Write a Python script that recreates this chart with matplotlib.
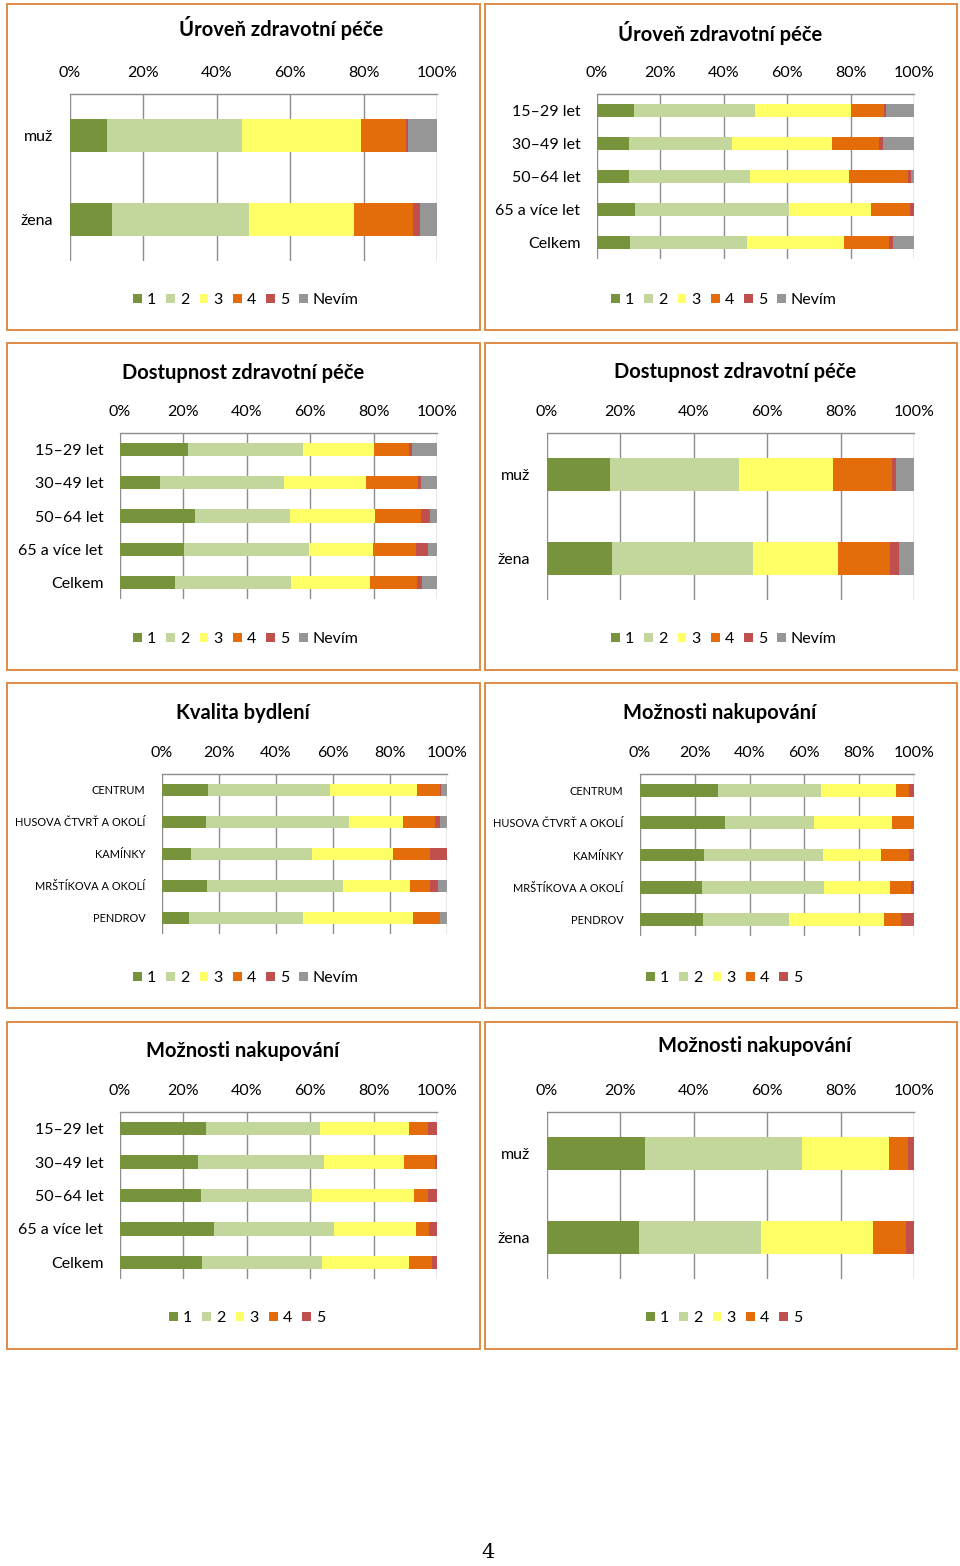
import matplotlib
matplotlib.use("Agg")
import matplotlib.pyplot as plt
from matplotlib.patches import Rectangle, Patch
import numpy as np

plt.rcParams['font.family'] = ['Lato', 'DejaVu Sans']

W, H = 960, 1566

# ---------------- data (percent of answers) ----------------
legend6 = ['1', '2', '3', '4', '5', 'Nevím']
legend5 = ['1', '2', '3', '4', '5']
colors = ['#77933C', '#C3D69B', '#FFFF66', '#E46C0A', '#C0504D', '#969696']

sex_cats = ['muž', 'žena']
age_cats = ['15–29 let', '30–49 let', '50–64 let', '65 a více let', 'Celkem']
area_cats = ['CENTRUM', 'HUSOVA ČTVRŤ A OKOLÍ', 'KAMÍNKY', 'MRŠTÍKOVA A OKOLÍ', 'PENDROV']

# Úroveň zdravotní péče - pohlaví
uroven_sex = [
    [10.0, 37.0, 32.3, 12.2, 0.5, 8.0],
    [11.4, 37.5, 28.4, 16.2, 1.8, 4.7],
]
# Úroveň zdravotní péče - věk
uroven_age = [
    [11.8, 38.0, 30.2, 10.5, 0.6, 8.9],
    [10.0, 32.6, 31.6, 14.7, 1.3, 9.8],
    [10.2, 38.2, 31.0, 18.8, 1.0, 0.8],
    [11.9, 48.6, 26.0, 12.2, 1.3, 0.0],
    [10.5, 36.9, 30.6, 14.1, 1.2, 6.7],
]
# Dostupnost zdravotní péče - věk
dostupnost_age = [
    [21.3, 36.3, 22.4, 11.3, 0.9, 7.8],
    [12.7, 38.9, 26.1, 16.4, 1.0, 4.9],
    [23.7, 30.0, 26.8, 14.6, 2.8, 2.1],
    [20.2, 39.3, 20.3, 13.7, 3.8, 2.7],
    [17.3, 36.7, 24.8, 14.9, 1.7, 4.6],
]
# Dostupnost zdravotní péče - pohlaví
dostupnost_sex = [
    [17.2, 35.2, 25.6, 16.1, 1.1, 4.8],
    [17.7, 38.3, 23.3, 14.1, 2.5, 4.1],
]
# Kvalita bydlení - lokalita
bydleni_area = [
    [16.2, 42.7, 30.6, 7.9, 0.5, 2.1],
    [15.4, 50.1, 19.1, 11.1, 2.0, 2.3],
    [10.2, 42.3, 28.4, 13.0, 6.1, 0.0],
    [15.9, 47.6, 23.5, 7.2, 2.8, 3.0],
    [9.6, 39.8, 38.6, 9.5, 0.0, 2.5],
]
# Možnosti nakupování - lokalita
nakup_area = [
    [28.4, 37.6, 27.6, 4.4, 2.0],
    [30.9, 32.6, 28.6, 7.9, 0.0],
    [23.3, 43.5, 21.0, 10.4, 1.8],
    [22.8, 44.5, 23.8, 7.9, 1.0],
    [23.1, 31.1, 34.9, 6.2, 4.7],
]
# Možnosti nakupování - věk
nakup_age = [
    [27.1, 36.1, 28.0, 6.1, 2.7],
    [24.7, 39.7, 25.3, 9.8, 0.5],
    [25.7, 35.0, 32.2, 4.3, 2.8],
    [29.7, 37.9, 25.9, 4.1, 2.4],
    [25.9, 37.8, 27.5, 7.2, 1.6],
]
# Možnosti nakupování - pohlaví
nakup_sex = [
    [26.8, 42.8, 23.6, 5.3, 1.5],
    [25.0, 33.4, 30.5, 9.0, 2.1],
]

# ---------------- layout ----------------
fig = plt.figure(figsize=(W / 100, H / 100), dpi=100)
fig.patch.set_facecolor('white')


def fx(x):
    return x / W


def fy(y):
    return 1 - y / H


def frame(x0, y0, x1, y1):
    fig.patches.append(Rectangle((fx(x0), fy(y1)), fx(x1) - fx(x0), fy(y0) - fy(y1),
                                 transform=fig.transFigure, fill=False,
                                 edgecolor='#DE8A45', linewidth=1.4))


def panel(box, data, cats, names, title, title_xy, leg_xy, ylab_size=11.5):
    x0, x1, yt, yb = box
    ax = fig.add_axes([fx(x0), fy(yb), fx(x1) - fx(x0), fy(yt) - fy(yb)])
    vals = np.array(data, dtype=float)
    vals = vals / vals.sum(axis=1, keepdims=True) * 100
    y = np.arange(len(cats))
    left = np.zeros(len(cats))
    for j in range(vals.shape[1]):
        ax.barh(y, vals[:, j], left=left, height=0.4, color=colors[j],
                label=names[j], zorder=3)
        left += vals[:, j]
    ax.set_xlim(0, 100)
    ax.set_ylim(len(cats) - 0.5, -0.5)
    ax.set_xticks([0, 20, 40, 60, 80, 100])
    ax.set_xticklabels(['0%', '20%', '40%', '60%', '80%', '100%'])
    ax.xaxis.tick_top()
    ax.set_yticks(y)
    ax.set_yticklabels(cats)
    ax.tick_params(axis='x', length=0, pad=10, labelsize=11.5)
    ax.tick_params(axis='y', length=0, pad=12, labelsize=ylab_size)
    ax.grid(axis='x', color='#8C8C8C', linewidth=1.0, zorder=0)
    for s in ['right', 'bottom', 'left']:
        ax.spines[s].set_visible(False)
    ax.spines['top'].set_color('#8C8C8C')
    ax.spines['top'].set_linewidth(1.0)
    fig.text(fx(title_xy[0]), fy(title_xy[1]), title, ha='center', va='center',
             fontsize=14.5, fontweight='bold')
    handles = [Patch(facecolor=colors[j], label=names[j]) for j in range(len(names))]
    fig.legend(handles=handles, loc='center', ncol=len(names), frameon=False,
               bbox_to_anchor=(fx(leg_xy[0]), fy(leg_xy[1])),
               fontsize=11.5, handlelength=0.55, handleheight=0.55,
               handletextpad=0.3, columnspacing=0.65)
    return ax


# row frames
for (ya, yb) in [(4, 330), (343, 670), (683, 1008), (1022, 1349)]:
    frame(7, ya, 480, yb)
    frame(485, ya, 957, yb)

panel((70, 437, 94, 261), uroven_sex, sex_cats, legend6,
      'Úroveň zdravotní péče', (281, 28), (246, 300))
panel((597, 914, 94, 259), uroven_age, age_cats, legend6,
      'Úroveň zdravotní péče', (720, 33), (724, 300))
panel((120, 437, 433, 599), dostupnost_age, age_cats, legend6,
      'Dostupnost zdravotní péče', (243, 373), (246, 639))
panel((547, 914, 433, 600), dostupnost_sex, sex_cats, legend6,
      'Dostupnost zdravotní péče', (735, 372), (724, 639))
panel((162, 447, 774, 934), bydleni_area, area_cats, legend6,
      'Kvalita bydlení', (243, 713), (246, 978), ylab_size=7.9)
panel((640, 914, 774, 936), nakup_area, area_cats, legend5,
      'Možnosti nakupování', (720, 713), (724, 978), ylab_size=7.9)
panel((120, 437, 1112, 1279), nakup_age, age_cats, legend5,
      'Možnosti nakupování', (243, 1051), (247, 1318))
panel((547, 914, 1112, 1279), nakup_sex, sex_cats, legend5,
      'Možnosti nakupování', (755, 1046), (724, 1318))

fig.text(fx(488), fy(1553), '4', ha='center', va='center', fontsize=15,
         family='DejaVu Serif')

fig.savefig('out.png', dpi=100, facecolor='white')
